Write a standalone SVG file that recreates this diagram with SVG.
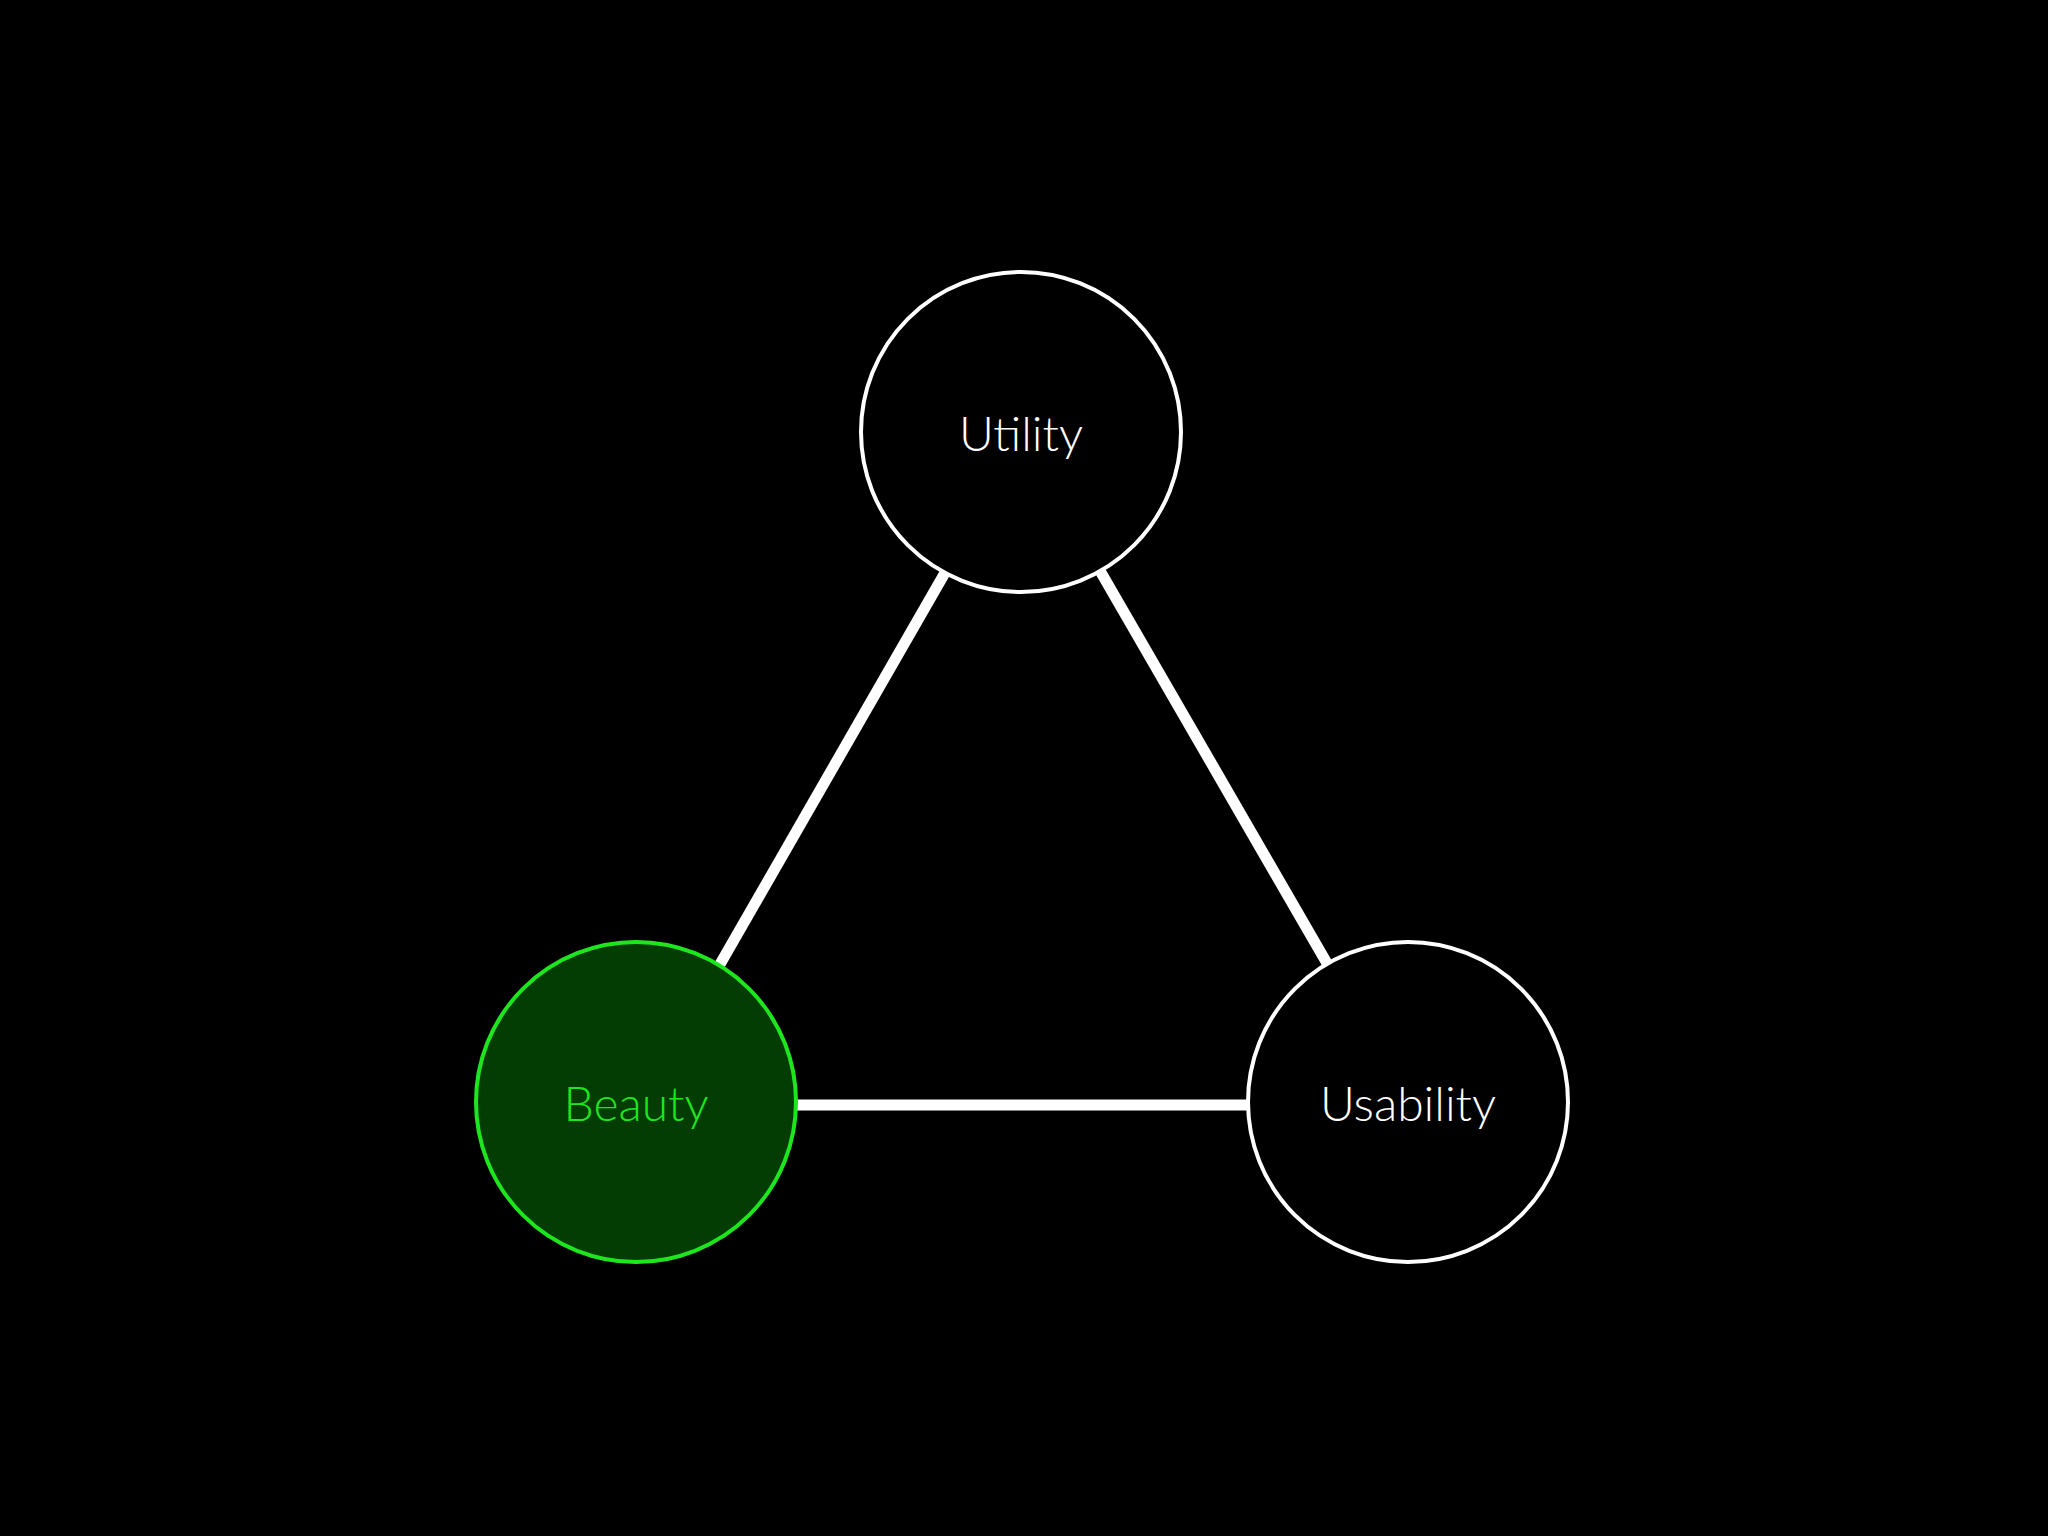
<svg xmlns="http://www.w3.org/2000/svg" width="2048" height="1536" viewBox="0 0 2048 1536">
<style>
.c{fill:#000;stroke:#fff;stroke-width:4}
.t{font-family:Lato,"Open Sans",sans-serif;font-weight:300;font-size:48px;fill:#fff;text-anchor:middle;dominant-baseline:central}
.l{stroke:#fff;stroke-width:11;fill:none}
</style>
<rect width="2048" height="1536" fill="#000"/>
<g id="connectors">
<line class="l" x1="946" y1="571" x2="719" y2="966"/>
<line class="l" x1="1099" y1="569" x2="1328" y2="965"/>
<line class="l" x1="797" y1="1105" x2="1248" y2="1105"/>
</g>
<g id="utility"><circle class="c" cx="1021" cy="432" r="160"/><text class="t" x="1021" y="432">Utility</text></g>
<g id="beauty"><circle cx="636" cy="1102" r="160" fill="#033d03" stroke="#1ee61e" stroke-width="4"/><text class="t" x="636" y="1102" style="fill:#1ee61e">Beauty</text></g>
<g id="usability"><circle class="c" cx="1408" cy="1102" r="160"/><text class="t" x="1408" y="1102">Usability</text></g>
</svg>
